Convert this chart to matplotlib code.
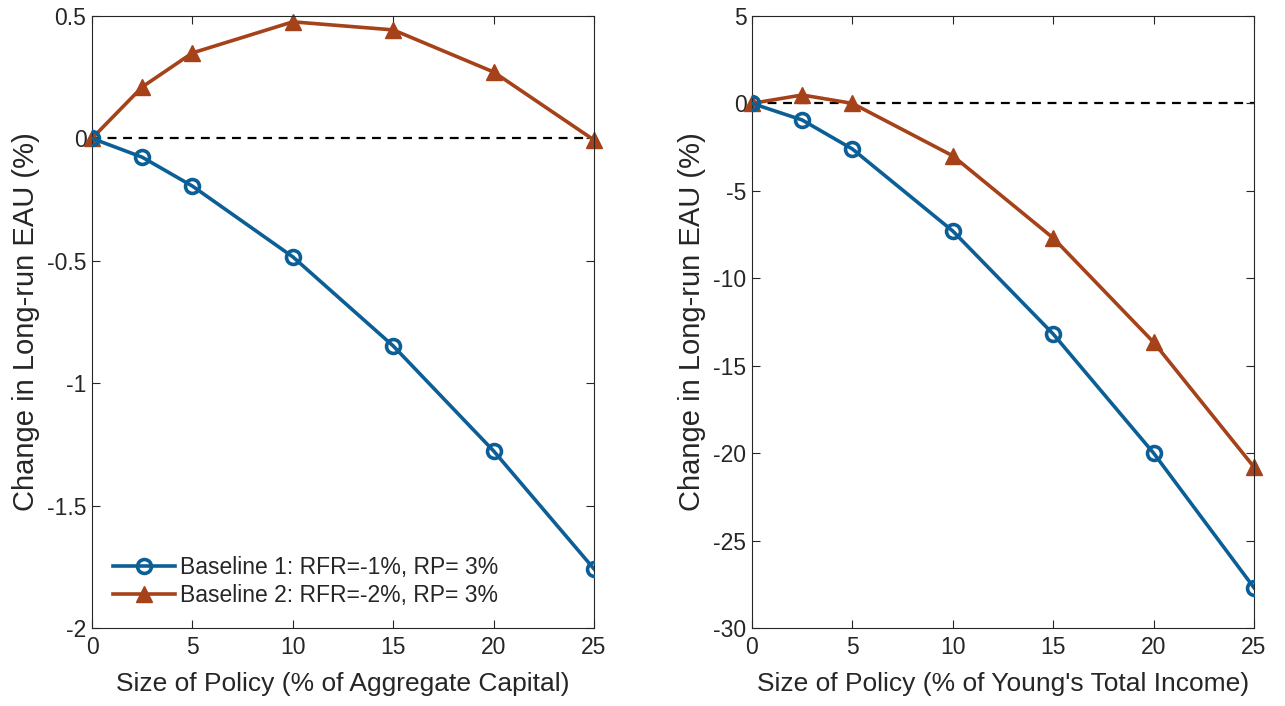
import numpy as np
import matplotlib
matplotlib.use("Agg")
import matplotlib.pyplot as plt

# policy sizes (% of aggregate capital / young's income)
policy_size = [0, 2.5, 5, 10, 15, 20, 25]

# left panel: % of aggregate capital
cap_base1 = [0, -0.077, -0.195, -0.484, -0.848, -1.277, -1.759]
cap_base2 = [0, 0.21, 0.349, 0.476, 0.443, 0.271, -0.007]

# right panel: % of young's total income
inc_base1 = [0, -0.95, -2.61, -7.3, -13.19, -20.0, -27.7]
inc_base2 = [0, 0.48, 0.0, -3.0, -7.7, -13.66, -20.8]

labels = ["Baseline 1: RFR=-1%, RP= 3%", "Baseline 2: RFR=-2%, RP= 3%"]

plt.rcParams['font.family'] = ['Liberation Sans', 'DejaVu Sans']
plt.rcParams['axes.unicode_minus'] = False

blue = '#0b5f96'
orange = '#a6421a'
txt = '#262626'
tick_fs = 16.5
xlab_fs = 19
ylab_fs = 21

fig = plt.figure(figsize=(12.85, 7.06), dpi=100)
ax1 = fig.add_axes([0.0716, 0.1105, 0.3907, 0.8669])
ax2 = fig.add_axes([0.5852, 0.1105, 0.3907, 0.8669])


def style(ax, xlabel, ylabel, ylim, yticks, yticklabels):
    ax.axhline(0, color='black', lw=1.6, ls=(0, (4, 3)), zorder=1)
    ax.set_xlim(0, 25)
    ax.set_ylim(*ylim)
    ax.set_xticks([0, 5, 10, 15, 20, 25])
    ax.set_yticks(yticks)
    ax.set_yticklabels(yticklabels)
    ax.tick_params(direction='in', top=True, right=True, length=6,
                   width=0.8, colors=txt, labelsize=tick_fs)
    ax.tick_params(axis='y', pad=4)
    ax.tick_params(axis='x', pad=6)
    for s in ax.spines.values():
        s.set_color('#262626')
        s.set_linewidth(0.8)
    ax.set_xlabel(xlabel, fontsize=xlab_fs, color=txt, labelpad=9)
    ax.set_ylabel(ylabel, fontsize=ylab_fs, color=txt, labelpad=5)


# left panel
ax1.plot(policy_size, cap_base1, color=blue, lw=2.6, marker='o', ms=10,
         mfc='none', mew=2.6, label=labels[0], zorder=3)
ax1.plot(policy_size, cap_base2, color=orange, lw=2.6, marker='^', ms=12,
         mfc=orange, mec=orange, label=labels[1], zorder=2)
style(ax1, 'Size of Policy (% of Aggregate Capital)', 'Change in Long-run EAU (%)',
      (-2, 0.5), [-2, -1.5, -1, -0.5, 0, 0.5], ['-2', '-1.5', '-1', '-0.5', '0', '0.5'])
leg = ax1.legend(loc='lower left', bbox_to_anchor=(0.0, 0.0), frameon=False,
                 fontsize=tick_fs, handlelength=2.7, handletextpad=0.22,
                 labelspacing=0.25, labelcolor=txt)

# right panel
ax2.plot(policy_size, inc_base1, color=blue, lw=2.6, marker='o', ms=10,
         mfc='none', mew=2.6, zorder=3)
ax2.plot(policy_size, inc_base2, color=orange, lw=2.6, marker='^', ms=12,
         mfc=orange, mec=orange, zorder=2)
style(ax2, "Size of Policy (% of Young's Total Income)", 'Change in Long-run EAU (%)',
      (-30, 5), [-30, -25, -20, -15, -10, -5, 0, 5],
      ['-30', '-25', '-20', '-15', '-10', '-5', '0', '5'])

for ax in (ax1, ax2):
    for ln in ax.lines[1:]:
        ln.set_clip_on(False)

fig.savefig('out.png', dpi=100)
